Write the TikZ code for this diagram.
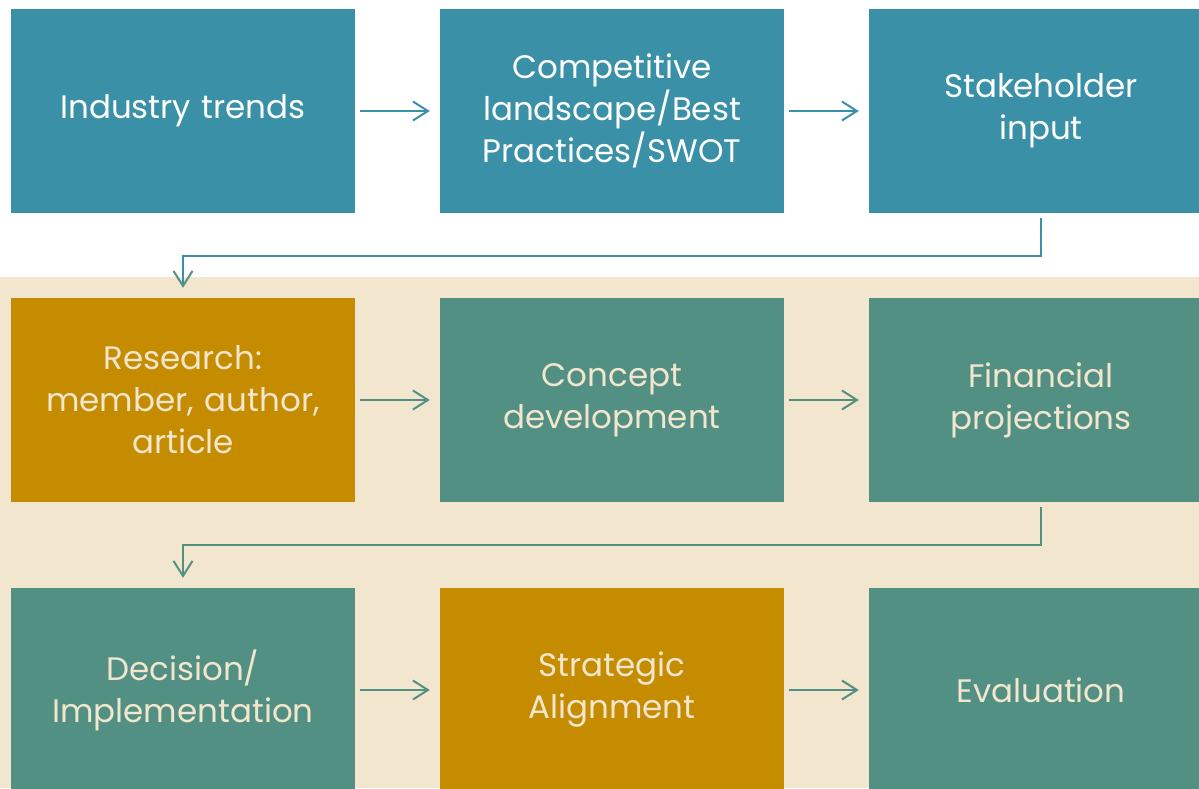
\documentclass[tikz,border=0pt]{standalone}
\usepackage{fontspec}
\setmainfont{Poppins}
\usetikzlibrary{arrows.meta}
\definecolor{tealblue}{HTML}{3A91A7}
\definecolor{gold}{HTML}{C58C00}
\definecolor{sage}{HTML}{539084}
\definecolor{sand}{HTML}{F2E6CE}
\tikzset{
  card/.style={rectangle, minimum width=344pt, minimum height=204pt, inner sep=0pt,
    align=center, font=\fontsize{32.5}{42}\selectfont, text width=334pt},
  cardtop/.style={card, fill=tealblue, text=white},
  cardgold/.style={card, fill=gold, text=sand},
  cardsage/.style={card, fill=sage, text=sand},
  flow/.style={line width=2pt, -{Straight Barb[length=15pt,width=19pt,line width=2pt]}},
}
\begin{document}
\begin{tikzpicture}[x=1pt,y=-1pt]
\useasboundingbox (0,0) rectangle (1199,788);
\fill[white] (0,0) rectangle (1199,788);
\fill[sand] (0,277) rectangle (1199,788);
\begin{scope}
\clip (0,0) rectangle (1199,788);
% first row
\node[cardtop]  (trends) at (183,111) {Industry trends};
\node[cardtop]  (land)   at (612,111) {Competitive landscape/Best Practices/SWOT};
\node[cardtop]  (stake)  at (1041,111) {Stakeholder\\input};
% second row
\node[cardgold] (research) at (183,400) {Research:\\member, author,\\article};
\node[cardsage] (concept)  at (612,400) {Concept\\development};
\node[cardsage] (finance)  at (1041,400) {Financial\\projections};
% third row
\node[cardsage] (decision) at (183,690) {Decision/\\Implementation};
\node[cardgold] (align)    at (612,690) {Strategic\\Alignment};
\node[cardsage] (eval)     at (1041,690) {Evaluation};
\end{scope}
% connectors
\draw[flow, tealblue] ([xshift=5pt]trends.east) -- ([xshift=-10pt]land.west);
\draw[flow, tealblue] ([xshift=5pt]land.east) -- ([xshift=-10pt]stake.west);
\draw[flow, tealblue, -{Straight Barb[length=15pt,width=19pt,line width=2pt,color=sage]}]
  ([yshift=-5pt]stake.south) -- ++(0,38) -| ([yshift=10pt]research.north);
\draw[flow, sage] ([xshift=5pt]research.east) -- ([xshift=-10pt]concept.west);
\draw[flow, sage] ([xshift=5pt]concept.east) -- ([xshift=-10pt]finance.west);
\draw[flow, sage] ([yshift=-5pt]finance.south) -- ++(0,38) -| ([yshift=10pt]decision.north);
\draw[flow, sage] ([xshift=5pt]decision.east) -- ([xshift=-10pt]align.west);
\draw[flow, sage] ([xshift=5pt]align.east) -- ([xshift=-10pt]eval.west);
\end{tikzpicture}
\end{document}
